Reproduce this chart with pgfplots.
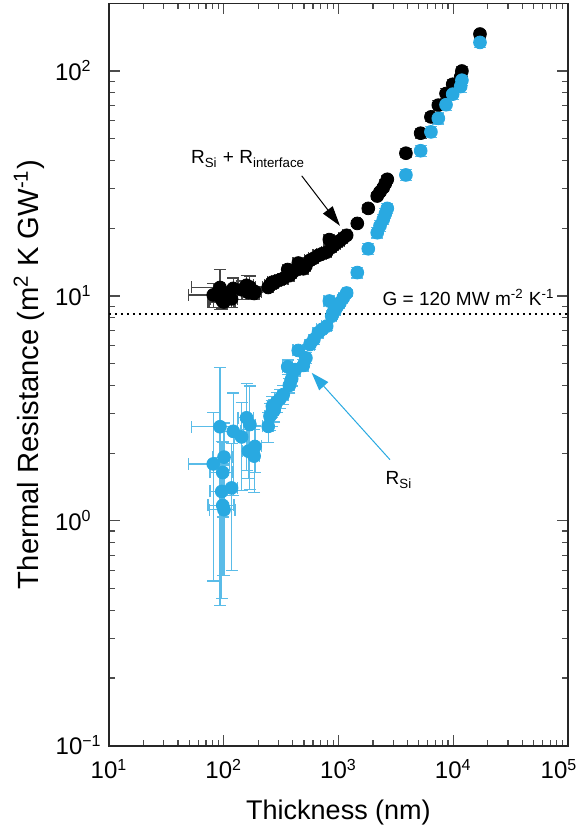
\documentclass[border=0pt]{standalone}
\usepackage{fontspec}
\setmainfont{Liberation Sans}
\usepackage{pgfplots}
\pgfplotsset{compat=1.18}
\usepackage{pgfplotstable}
\usetikzlibrary{arrows.meta}
\definecolor{siblue}{RGB}{41,169,225}
\definecolor{barblue}{RGB}{90,188,232}
\definecolor{bargray}{RGB}{70,70,70}

\pgfplotstableread{
x y ex ey
81 1.79 32 1.25
92.7 2.62 40 2.2
96 1.35 20 0.9
98 1.64 22 0.6
98 1.17 25 0.6
100.5 1.92 20 0.8
100.5 1.12 25 0.55
117 1.40 15 0.8
121 2.50 20 1.2
143 2.36 20 1.0
158 2.87 25 1.2
164 2.04 20 0.5
169 2.68 20 1.3
184 1.94 20 0.6
187 2.14 25 0.5
244 2.63 25 0.4
253 2.92 25 0.4
262 3.02 26 0.4
265 3.23 26 0.35
275 3.10 27 0.35
289 3.37 29 0.35
310 3.50 31 0.35
330 3.64 33 0.35
361 4.84 36 0.35
373 4.00 37 0.3
391 4.28 39 0.3
420 4.70 42 0.3
446 5.72 45 0.3
494 4.91 49 0.3
520 5.30 52 0.3
564 6.08 56 0.3
610 6.40 61 0.3
667 6.86 67 0.3
720 7.10 72 0.3
789 7.34 79 0.3
832 9.49 83 0.35
873 8.13 87 0.3
905 8.50 90 0.3
940 8.70 94 0.3
990 9.10 99 0.3
1030 9.33 100 0.35
1100 9.80 100 0.35
1178 10.3 100 0.4
1458 12.7 80 0.7
1818 16.2 90 0.9
2175 19.1 100 1.0
2300 20.5 100 1.1
2455 21.9 100 1.1
2560 23.2 100 1.2
2663 24.5 100 1.3
3870 34.5 120 2.0
5200 44.2 150 2.5
6390 53.6 170 3.0
7410 61.6 200 3.5
8650 70.8 220 4.0
9890 78.9 250 4.5
11600 85.3 280 5.0
11900 91.0 280 5.0
17100 134 400 7.0
}\blueData

\pgfplotstableread{
x y ex ey
81 10.1 32 1.25
92.7 10.9 40 2.2
96 9.65 20 0.9
98 9.95 22 0.6
98 9.45 25 0.6
100.5 10.2 20 0.8
100.5 9.4 25 0.55
117 9.7 15 0.8
121 10.8 20 1.2
143 10.65 20 1.0
158 11.15 25 1.2
164 10.35 20 0.5
169 10.95 20 1.3
184 10.25 20 0.6
187 10.45 25 0.5
244 10.9 25 0.4
253 11.2 25 0.4
262 11.3 26 0.4
265 11.5 26 0.35
275 11.4 27 0.35
289 11.65 29 0.35
310 11.8 31 0.35
330 11.95 33 0.35
361 13.1 36 0.35
373 12.3 37 0.3
391 12.6 39 0.3
420 13.0 42 0.3
446 14.0 45 0.3
494 13.2 49 0.3
520 13.6 52 0.3
564 14.4 56 0.3
610 14.7 61 0.3
667 15.15 67 0.3
720 15.4 72 0.3
789 15.65 79 0.3
832 17.8 83 0.35
873 16.45 87 0.3
905 16.8 90 0.3
940 17.0 94 0.3
990 17.4 99 0.3
1030 17.6 100 0.35
1100 18.1 100 0.35
1178 18.6 100 0.4
1458 21.0 80 0.7
1818 24.5 90 0.9
2175 27.8 100 1.0
2300 29.0 100 1.1
2455 30.3 100 1.1
2560 31.6 100 1.2
2663 33.0 100 1.3
3870 43.1 120 2.0
5200 52.9 150 2.5
6390 62.5 170 3.0
7410 70.5 200 3.5
8650 79.4 220 4.0
9890 87.3 250 4.5
11600 94.0 280 5.0
11900 100 280 5.0
17100 146 400 6.0
}\blackData

\begin{document}
\begin{tikzpicture}
\begin{axis}[
  name=ax,
  scale only axis,
  width=229.5pt, height=371.2pt,
  xmode=log, ymode=log,
  xmin=10, xmax=1e5, ymin=0.1, ymax=200,
  xtick={10,100,1000,10000,100000},
  xticklabels={10\textsuperscript{1},10\textsuperscript{2},10\textsuperscript{3},10\textsuperscript{4},10\textsuperscript{5}\hspace*{9pt}},
  ytick={0.1,1,10,100},
  yticklabels={10\textsuperscript{−1}\hspace*{-5pt},10\textsuperscript{0},10\textsuperscript{1},10\textsuperscript{2}},
  tick align=inside,
  major tick length=5.5pt, minor tick length=3pt,
  axis line style={line width=0.8pt, color=black!85},
  tick style={line width=0.6pt, color=black!70},
  xticklabel style={font=\fontsize{12}{14}\selectfont, anchor=base, yshift=-16.6pt, inner sep=0pt},
  yticklabel style={font=\fontsize{12}{14}\selectfont, anchor=base east, xshift=-8.5pt, yshift=-4.6pt, inner sep=0pt},
  every axis x label/.style={at={(axis description cs:0.5,0)}, anchor=center, yshift=-33.6pt},
  every axis y label/.style={at={(axis description cs:-0.1743,0.5)}, rotate=90, anchor=center},
  xlabel style={font=\fontsize{13.5}{16}\selectfont},
  ylabel style={font=\fontsize{14.6}{17}\selectfont},
  xlabel={Thickness (nm)},
  ylabel={Thermal Resistance (m\textsuperscript{2} K GW\textsuperscript{-1})},
]
\addplot[line width=1pt, dash pattern=on 1pt off 2pt] coordinates {(10,8.33) (100000,8.33)};

\addplot[only marks, mark=*, mark size=3.2pt, color=black, mark options={fill=black, draw=black},
  error bars/.cd, x dir=both, x explicit, y dir=both, y explicit,
  error bar style={color=bargray, line width=0.6pt},
  error mark options={rotate=90, color=bargray, mark size=3pt, line width=0.6pt}]
  table[x=x, y=y, x error=ex, y error=ey] {\blackData};

\addplot[only marks, mark=*, mark size=3.2pt, color=siblue, mark options={fill=siblue, draw=siblue},
  error bars/.cd, x dir=both, x explicit, y dir=both, y explicit,
  error bar style={color=barblue, line width=0.6pt},
  error mark options={rotate=90, color=barblue, mark size=3pt, line width=0.6pt}]
  table[x=x, y=y, x error=ex, y error=ey] {\blueData};

\node[font=\fontsize{9.5}{11}\selectfont] at (axis cs:163,40.6) {R\textsubscript{Si} + R\textsubscript{interface}};
\draw[-{Triangle[length=10pt,width=6pt]}, line width=0.5pt] (axis cs:478,34.2) -- (axis cs:1030,20.5);
\draw[siblue, -{Triangle[length=9pt,width=6pt]}, line width=0.5pt] (axis cs:2810,1.87) -- (axis cs:584,4.55);
\node[font=\fontsize{9.5}{11}\selectfont] at (axis cs:3365,1.52) {R\textsubscript{Si}};
\node[font=\fontsize{9.5}{11}\selectfont] at (axis cs:13590,9.84) {G = 120 MW m\textsuperscript{-2} K\textsuperscript{-1}};
\end{axis}
\pgfresetboundingbox
\path ([shift={(-54.5pt,-40.65pt)}]ax.south west) rectangle ([shift={(6pt,1.65pt)}]ax.north east);
\end{tikzpicture}
\end{document}
